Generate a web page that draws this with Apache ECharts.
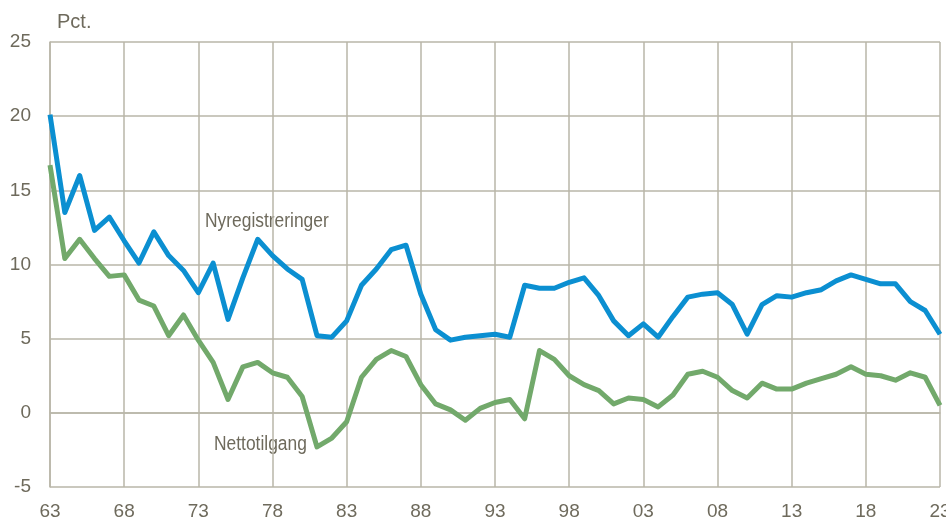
<!DOCTYPE html>
<html>
<head>
<meta charset="utf-8">
<script src="https://cdn.jsdelivr.net/npm/echarts@6/dist/echarts.min.js"></script>
<style>
  html, body { margin: 0; padding: 0; background: #fff; }
  #main { width: 946px; height: 518px; }
</style>
</head>
<body>
<div id="main"></div>
<script>
// years 1963 - 2023
const years = []
for (let y = 1963; y <= 2023; y++) years.push(y)

const nyregistreringer = [
  20.1, 13.5, 16.0, 12.3, 13.2, 11.6, 10.1, 12.2, 10.6, 9.6,
  8.1, 10.1, 6.3, 9.1, 11.7, 10.6, 9.7, 9.0, 5.2, 5.1,
  6.2, 8.6, 9.7, 11.0, 11.3, 8.0, 5.6, 4.9, 5.1, 5.2,
  5.3, 5.1, 8.6, 8.4, 8.4, 8.8, 9.1, 7.9, 6.2, 5.2,
  6.0, 5.1, 6.5, 7.8, 8.0, 8.1, 7.3, 5.3, 7.3, 7.9,
  7.8, 8.1, 8.3, 8.9, 9.3, 9.0, 8.7, 8.7, 7.5, 6.9,
  5.3
]

const nettotilgang = [
  16.7, 10.4, 11.7, 10.4, 9.2, 9.3, 7.6, 7.2, 5.2, 6.6,
  4.9, 3.4, 0.9, 3.1, 3.4, 2.7, 2.4, 1.1, -2.3, -1.7,
  -0.6, 2.4, 3.6, 4.2, 3.8, 1.9, 0.6, 0.2, -0.5, 0.3,
  0.7, 0.9, -0.4, 4.2, 3.6, 2.5, 1.9, 1.5, 0.6, 1.0,
  0.9, 0.4, 1.2, 2.6, 2.8, 2.4, 1.5, 1.0, 2.0, 1.6,
  1.6, 2.0, 2.3, 2.6, 3.1, 2.6, 2.5, 2.2, 2.7, 2.4,
  0.5
]

const yTicks = { min: -5, max: 25, interval: 5 }

const gridColor = '#b9b6a9'
const textColor = '#6e6a5c'
const font = '"Liberation Sans", Arial, sans-serif'

const myChart = echarts.init(document.getElementById('main'))

myChart.setOption({
  animation: false,
  grid: { left: 50, right: 6, top: 42, height: 445, outerBoundsMode: 'none', containLabel: false },
  xAxis: {
    type: 'value',
    min: 1963,
    max: 2023,
    interval: 5,
    axisLine: { show: true, lineStyle: { color: gridColor, width: 1.5 } },
    axisTick: { show: false },
    splitLine: { show: true, lineStyle: { color: gridColor, width: 1.5 } },
    axisLabel: {
      color: textColor,
      fontFamily: font,
      fontSize: 19,
      margin: 15,
      hideOverlap: false,
      formatter: v => String(v % 100).padStart(2, '0')
    }
  },
  yAxis: {
    type: 'value',
    min: yTicks.min,
    max: yTicks.max,
    interval: yTicks.interval,
    axisLine: { show: true, lineStyle: { color: gridColor, width: 1.5 } },
    axisTick: { show: false },
    splitLine: { show: true, lineStyle: { color: gridColor, width: 1.5 } },
    axisLabel: { color: textColor, fontFamily: font, fontSize: 19, margin: 19 }
  },
  series: [
    {
      name: 'Nyregistreringer',
      type: 'line',
      symbol: 'none',
      data: years.map((y, i) => [y, nyregistreringer[i]]),
      lineStyle: { color: '#0b8fd1', width: 5, join: 'round' },
      z: 3
    },
    {
      name: 'Nettotilgang',
      type: 'line',
      symbol: 'none',
      data: years.map((y, i) => [y, nettotilgang[i]]),
      lineStyle: { color: '#72a96b', width: 5, join: 'round' },
      z: 2
    }
  ],
  graphic: [
    { type: 'text', left: 57, top: 12, style: { text: 'Pct.', fill: textColor, font: '20px ' + font } },
    { type: 'text', x: 205, y: 211, scaleX: 0.87, style: { text: 'Nyregistreringer', fill: textColor, font: '20px ' + font } },
    { type: 'text', x: 214, y: 434, scaleX: 0.87, style: { text: 'Nettotilgang', fill: textColor, font: '20px ' + font } }
  ]
})
</script>
</body>
</html>
